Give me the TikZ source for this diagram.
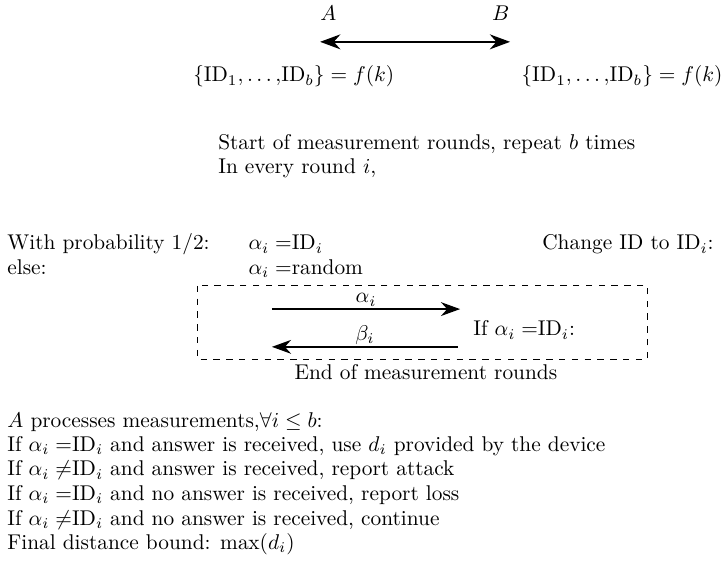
\documentclass[tikz,border=0pt]{standalone}
\usetikzlibrary{arrows.meta}

\tikzset{
  txt/.style={inner sep=0pt, anchor=base west},
  msg/.style={thick, -{Stealth[length=9pt,width=6.5pt]}},
}

\begin{document}
\begin{tikzpicture}[scale=0.957]
  \useasboundingbox (0,0) rectangle (12.41,-9.69);
  % parties
  \node[inner sep=0pt, anchor=base] (A) at (5.65,-0.36) {$A$};
  \node[inner sep=0pt, anchor=base] (B) at (8.62,-0.36) {$B$};
  \coordinate (lineA) at (5.51,-0.72);
  \coordinate (lineB) at (8.78,-0.72);
  \draw[thick, {Stealth[length=9.5pt,width=7pt]}-{Stealth[length=9.5pt,width=7pt]}] (lineA) -- (lineB);
  \node[txt] (keysA) at (3.32,-1.41) {$\{$ID$_1,\ldots,$ID$_b\} = f(k)$};
  \node[txt] (keysB) at (8.97,-1.41) {$\{$ID$_1,\ldots,$ID$_b\} = f(k)$};
  % rounds
  \node[txt] (start) at (3.75,-2.58) {Start of measurement rounds, repeat $b$ times};
  \node[txt] (round) at (3.75,-2.99) {In every round $i$,};
  \node[txt] (prob) at (0.12,-4.30) {With probability $1/2$:};
  \node[txt] (else) at (0.12,-4.72) {else:};
  \node[txt] (alphaId) at (4.27,-4.30) {$\alpha_i =$ID$_i$};
  \node[txt] (alphaRand) at (4.27,-4.72) {$\alpha_i =$random};
  \node[inner sep=0pt, anchor=base east] (change) at (12.29,-4.30) {Change ID to ID$_i$:};
  % exchange
  \draw[dashed] (3.39,-4.92) rectangle (11.15,-6.18);
  \coordinate (chalA) at (4.68,-5.32);
  \coordinate (chalB) at (7.92,-5.32);
  \coordinate (respB) at (7.88,-5.97);
  \coordinate (respA) at (4.68,-5.97);
  \draw[msg] (chalA) -- node[inner sep=0pt, above=1pt] (alpha) {$\alpha_i$} (chalB);
  \draw[msg] (respB) -- node[inner sep=0pt, above=0.5pt] (beta) {$\beta_i$} (respA);
  \node[txt] (cond) at (8.14,-5.78) {If $\alpha_i =$ID$_i$:};
  \node[inner sep=0pt, anchor=base] (endrounds) at (7.33,-6.54) {End of measurement rounds};
  % processing
  \node[txt] (proc) at (0.12,-7.35) {$A$ processes measurements,$\forall i \leq b$:};
  \node[txt] (caseOne) at (0.12,-7.77) {If $\alpha_i =$ID$_i$ and answer is received, use $d_i$ provided by the device};
  \node[txt] (caseTwo) at (0.12,-8.19) {If $\alpha_i \neq$ID$_i$ and answer is received, report attack};
  \node[txt] (caseThree) at (0.12,-8.61) {If $\alpha_i =$ID$_i$ and no answer is received, report loss};
  \node[txt] (caseFour) at (0.12,-9.04) {If $\alpha_i \neq$ID$_i$ and no answer is received, continue};
  \node[txt] (bound) at (0.12,-9.46) {Final distance bound: $\max(d_i)$};
\end{tikzpicture}
\end{document}
